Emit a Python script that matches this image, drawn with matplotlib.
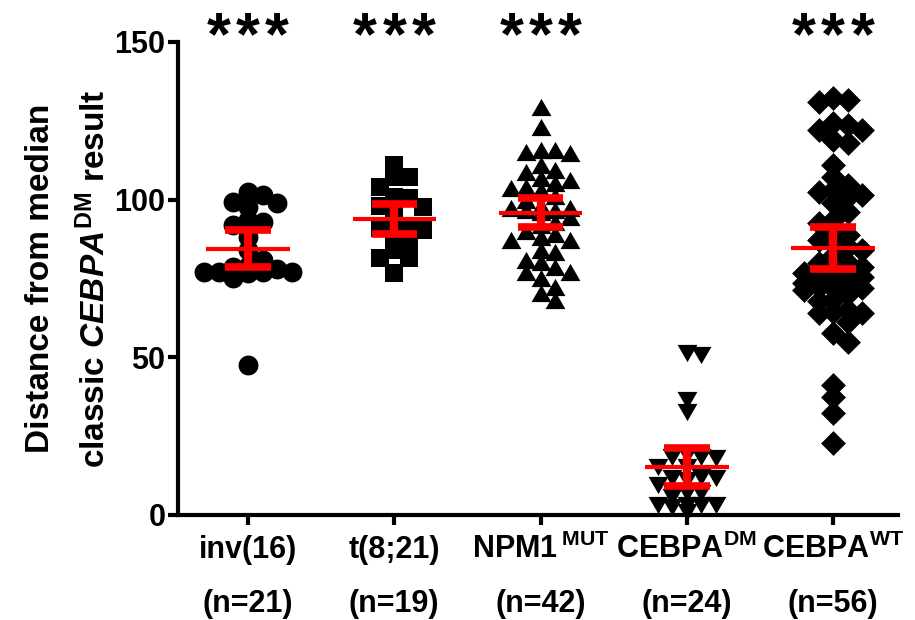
import numpy as np
import matplotlib
matplotlib.use('Agg')
import matplotlib.pyplot as plt

plt.rcParams['font.family'] = ['Liberation Sans', 'DejaVu Sans']
plt.rcParams['font.weight'] = 'bold'
plt.rcParams['axes.labelweight'] = 'bold'
plt.rcParams['mathtext.fontset'] = 'custom'
plt.rcParams['mathtext.rm'] = 'Liberation Sans:bold'
plt.rcParams['mathtext.it'] = 'Liberation Sans:italic:bold'
plt.rcParams['mathtext.bf'] = 'Liberation Sans:bold'

# group names (x axis) and significance marks
groups = ['inv(16)', 't(8;21)', 'NPM1$\\,^{\\mathrm{MUT}}$',
          'CEBPA$^{\\mathrm{DM}}$', 'CEBPA$^{\\mathrm{WT}}$']
stars = [True, True, True, False, True]

# distance from median classic CEBPA-DM profile, per patient
inv16 = [102.4, 101.5, 99.3, 99.0, 97.7, 92.9, 93.6, 92.0, 88.2, 84.0, 78.7,
         77.0, 77.0, 76.7, 77.0, 77.0, 78.0, 47.6, 81.0, 79.0, 75.0]
t821 = [111.0, 107.2, 107.2, 104.0, 100.9, 98.0, 100.5, 97.7, 95.8, 91.0,
        92.0, 91.0, 90.4, 87.9, 85.6, 84.0, 81.5, 81.5, 76.7]
npm1 = [129.4, 123.0, 115.8, 114.8, 115.8, 115.0, 111.0, 109.4, 108.8, 106.9,
        106.2, 105.3, 104.0, 103.0, 96.7, 97.4, 97.4, 96.7, 94.5, 88.2, 87.2,
        87.2, 83.4, 84.0, 80.2, 80.9, 77.0, 78.7, 77.0, 75.2, 72.3, 70.4, 68.2,
        100.0, 92.0, 98.0, 90.0, 101.0, 93.0, 96.0, 89.0, 103.6]
cebpa_dm = [51.3, 50.7, 36.5, 32.7, 19.0, 18.4, 18.4, 18.0, 15.2, 15.2, 11.1,
            11.7, 11.7, 9.5, 7.0, 7.0, 5.7, 3.2, 3.2, 2.5, 3.2, 3.2, 1.0, 12.0]
cebpa_wt = [131.6, 131.0, 132.2, 123.7, 122.0, 124.3, 122.0, 118.0, 118.9,
            111.0, 107.2, 103.0, 104.7, 100.9, 101.5, 102.4, 99.0, 96.0, 92.6,
            93.6, 88.8, 87.2, 89.8, 76.7, 75.5, 78.7, 72.3, 73.6, 72.0,
            71.4, 72.3, 72.0, 68.2, 64.0, 65.0, 64.0, 64.4, 61.2, 57.7, 54.9,
            41.2, 37.5, 32.3, 22.8,
            85.0, 82.0, 80.0, 78.0, 76.0, 74.0, 70.0, 68.0, 84.0, 86.0, 80.0,
            75.5]
data = [inv16, t821, npm1, cebpa_dm, cebpa_wt]

# two-sided 95% t critical values for df = n-1
t_crit = [2.086, 2.101, 2.020, 2.069, 2.004]

tri_up = [(0, 0.866), (-1, -0.866), (1, -0.866), (0, 0.866)]
tri_down = [(0, -0.866), (-1, 0.866), (1, 0.866), (0, -0.866)]
markers = ['o', 's', tri_up, tri_down, 'D']
sizes = [205, 185, 205, 205, 160]
max_cols = [3, 2, 2, 2, 2]


def swarm(vals, step=0.1, gap=3.6, maxcol=2):
    # column based scatter: highest value first, nearest free column
    vals = np.asarray(vals)
    xs = np.zeros(len(vals))
    placed = []
    cols = [0]
    for c in range(1, maxcol + 1):
        cols += [c, -c]
    for i in np.argsort(vals)[::-1]:
        v = vals[i]
        best, best_d = 0, -1
        for k in cols:
            d = min([abs(v - pv) for c, pv in placed if c == k] or [99])
            if d >= gap:
                best = k
                break
            if d > best_d:
                best, best_d = k, d
        placed.append((best, v))
        xs[i] = best * step
    return xs


fig = plt.figure(figsize=(9.15, 6.2), dpi=100)
ax = fig.add_axes([0.1945, 0.1694, 0.7869, 0.7629])

for i, vals in enumerate(data):
    vals = np.asarray(vals)
    ax.scatter(i + swarm(vals, maxcol=max_cols[i]), vals, s=sizes[i],
               marker=markers[i], color='black', linewidths=0, zorder=3,
               clip_on=False)

    m = vals.mean()
    ci = t_crit[i] * vals.std(ddof=1) / np.sqrt(len(vals))
    ax.hlines(m, i - 0.285, i + 0.285, color='red', lw=3, zorder=5)
    ax.vlines(i, m - ci, m + ci, color='red', lw=6, zorder=5)
    ax.hlines([m - ci, m + ci], i - 0.155, i + 0.155, color='red', lw=5.5,
              zorder=5)

    if stars[i]:
        for dx in (-21, 0, 21):
            ax.annotate('*', xy=(i, 146), xytext=(dx, 0),
                        textcoords='offset points', fontsize=44,
                        ha='center', va='baseline', annotation_clip=False)

    ax.annotate(groups[i], xy=(i, 0), xycoords=('data', 'axes fraction'),
                xytext=(0, -31), textcoords='offset points', ha='center',
                va='baseline', fontsize=22)
    ax.annotate('(n=%d)' % len(vals), xy=(i, 0),
                xycoords=('data', 'axes fraction'), xytext=(0, -70),
                textcoords='offset points', ha='center', va='baseline',
                fontsize=22)

ax.set_xlim(-0.478, 4.443)
ax.set_ylim(0, 150)
ax.set_xticks(range(len(groups)))
ax.set_xticklabels([])
ax.set_yticks([0, 50, 100, 150])

for side in ['top', 'right']:
    ax.spines[side].set_visible(False)
for side in ['left', 'bottom']:
    ax.spines[side].set_linewidth(3)

ax.tick_params(width=3, length=7, direction='out')
ax.tick_params(axis='y', labelsize=22, pad=2)

ax.set_ylabel('Distance from median\nclassic $\\mathit{CEBPA}^{\\mathrm{DM}}$ result',
              fontsize=24, fontweight='bold', linespacing=1.8)
ax.yaxis.set_label_coords(-0.0916, 0.5)

fig.savefig('out.png', dpi=100)
